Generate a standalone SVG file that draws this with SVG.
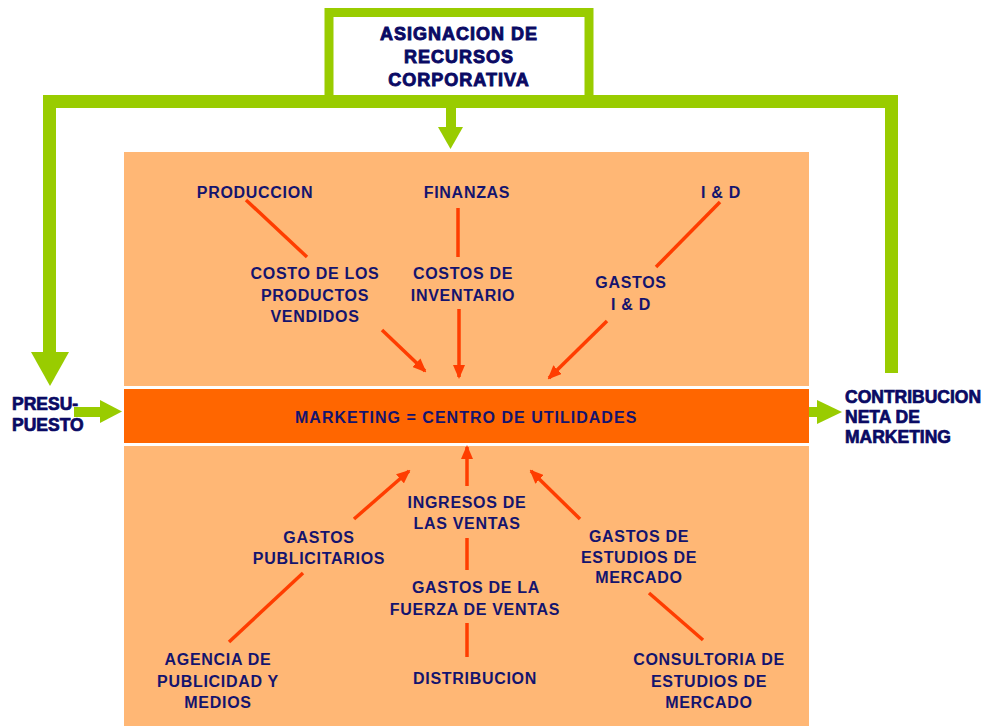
<svg xmlns="http://www.w3.org/2000/svg" width="983" height="726" viewBox="0 0 983 726">
<defs>
<style>
.t{font-family:"Liberation Sans",Arial,sans-serif;font-weight:bold;font-size:16px;fill:#14146e;text-anchor:middle;letter-spacing:0.7px}
.h{font-family:"Liberation Sans",Arial,sans-serif;font-weight:bold;font-size:17.5px;fill:#0a0a64;stroke:#0a0a64;stroke-width:0.7px}
.hb{letter-spacing:1px;font-size:18px;stroke-width:0.9px}
.g{fill:#99cc00}
.lt{fill:#ffb775}
.r{stroke:#ff3d00;stroke-width:3.5;fill:none}
.ra{stroke:#ff3d00;stroke-width:3.5;fill:none;marker-end:url(#ah)}
</style>
<marker id="ah" viewBox="0 0 14 12" refX="12" refY="6" markerWidth="14" markerHeight="12" markerUnits="userSpaceOnUse" orient="auto">
<path d="M0,0 L14,6 L0,12 z" fill="#ff3d00"/>
</marker>
</defs>
<rect width="983" height="726" fill="#ffffff"/>

<g id="panel">
<rect class="lt" x="124" y="152" width="685" height="234"/>
<rect class="lt" x="124" y="446" width="685" height="280"/>
</g>

<g id="asignacion">
<rect x="329" y="12.5" width="260" height="88" fill="#ffffff" stroke="#99cc00" stroke-width="9"/>
<text class="h hb" x="459" y="40" text-anchor="middle">ASIGNACION DE</text>
<text class="h hb" x="459" y="63" text-anchor="middle">RECURSOS</text>
<text class="h hb" x="459" y="86" text-anchor="middle">CORPORATIVA</text>
</g>

<g id="green-flow">
<rect class="g" x="43" y="95" width="855" height="13"/>
<rect class="g" x="43" y="95" width="13" height="258"/>
<polygon class="g" points="31,352 69,352 50,386"/>
<rect class="g" x="885" y="95" width="13" height="278"/>
<rect class="g" x="446" y="105" width="10" height="23"/>
<polygon class="g" points="438,127 463,127 450.5,149"/>
<rect class="g" x="74" y="407" width="27" height="10"/>
<polygon class="g" points="100,400 100,423 122,411.5"/>
<rect class="g" x="795" y="407" width="23" height="10"/>
<polygon class="g" points="817,400 817,424 842,412"/>
</g>

<g id="marketing">
<rect x="124" y="389" width="685" height="54" fill="#ff6600"/>
<text class="t" x="466" y="423" textLength="342" lengthAdjust="spacing">MARKETING = CENTRO DE UTILIDADES</text>
</g>

<g id="presupuesto">
<text class="h" x="12" y="410">PRESU-</text>
<text class="h" x="12" y="431">PUESTO</text>
</g>

<g id="contribucion">
<text class="h" x="845" y="403">CONTRIBUCION</text>
<text class="h" x="845" y="423">NETA DE</text>
<text class="h" x="845" y="443">MARKETING</text>
</g>

<g id="produccion"><text class="t" x="255" y="198">PRODUCCION</text></g>
<g id="finanzas"><text class="t" x="467" y="198">FINANZAS</text></g>
<g id="iyd"><text class="t" x="721" y="198">I &amp; D</text></g>
<g id="costo-productos">
<text class="t" x="315" y="279">COSTO DE LOS</text>
<text class="t" x="315" y="301">PRODUCTOS</text>
<text class="t" x="315" y="322">VENDIDOS</text>
</g>
<g id="costos-inventario">
<text class="t" x="463" y="279">COSTOS DE</text>
<text class="t" x="463" y="301">INVENTARIO</text>
</g>
<g id="gastos-iyd">
<text class="t" x="631" y="288">GASTOS</text>
<text class="t" x="631" y="310">I &amp; D</text>
</g>

<g id="ingresos">
<text class="t" x="467" y="508">INGRESOS DE</text>
<text class="t" x="467" y="529">LAS VENTAS</text>
</g>
<g id="gastos-publicitarios">
<text class="t" x="319" y="543">GASTOS</text>
<text class="t" x="319" y="564">PUBLICITARIOS</text>
</g>
<g id="gastos-fuerza">
<text class="t" x="476" y="593">GASTOS DE LA</text>
<text class="t" x="475" y="615">FUERZA DE VENTAS</text>
</g>
<g id="distribucion"><text class="t" x="475" y="684">DISTRIBUCION</text></g>
<g id="gastos-estudios">
<text class="t" x="639" y="542">GASTOS DE</text>
<text class="t" x="639" y="563">ESTUDIOS DE</text>
<text class="t" x="639" y="583">MERCADO</text>
</g>
<g id="agencia">
<text class="t" x="218" y="665">AGENCIA DE</text>
<text class="t" x="218" y="687">PUBLICIDAD Y</text>
<text class="t" x="218" y="708">MEDIOS</text>
</g>
<g id="consultoria">
<text class="t" x="709" y="665">CONSULTORIA DE</text>
<text class="t" x="709" y="687">ESTUDIOS DE</text>
<text class="t" x="709" y="708">MERCADO</text>
</g>

<g id="connectors">
<line class="r" x1="246" y1="200" x2="307" y2="257"/>
<line class="r" x1="458" y1="208" x2="458" y2="257"/>
<line class="r" x1="720" y1="202" x2="656" y2="267"/>
<line class="ra" x1="382" y1="330" x2="425" y2="371"/>
<line class="ra" x1="459" y1="309" x2="459" y2="377"/>
<line class="ra" x1="607" y1="321" x2="549" y2="378"/>
<line class="ra" x1="467" y1="486" x2="467" y2="447"/>
<line class="r" x1="467" y1="538" x2="467" y2="570"/>
<line class="r" x1="467" y1="623" x2="467" y2="657"/>
<line class="ra" x1="354" y1="519" x2="409" y2="471"/>
<line class="r" x1="229" y1="642" x2="303" y2="573"/>
<line class="ra" x1="580" y1="519" x2="531" y2="471"/>
<line class="r" x1="649" y1="593" x2="703" y2="640"/>
</g>
</svg>
